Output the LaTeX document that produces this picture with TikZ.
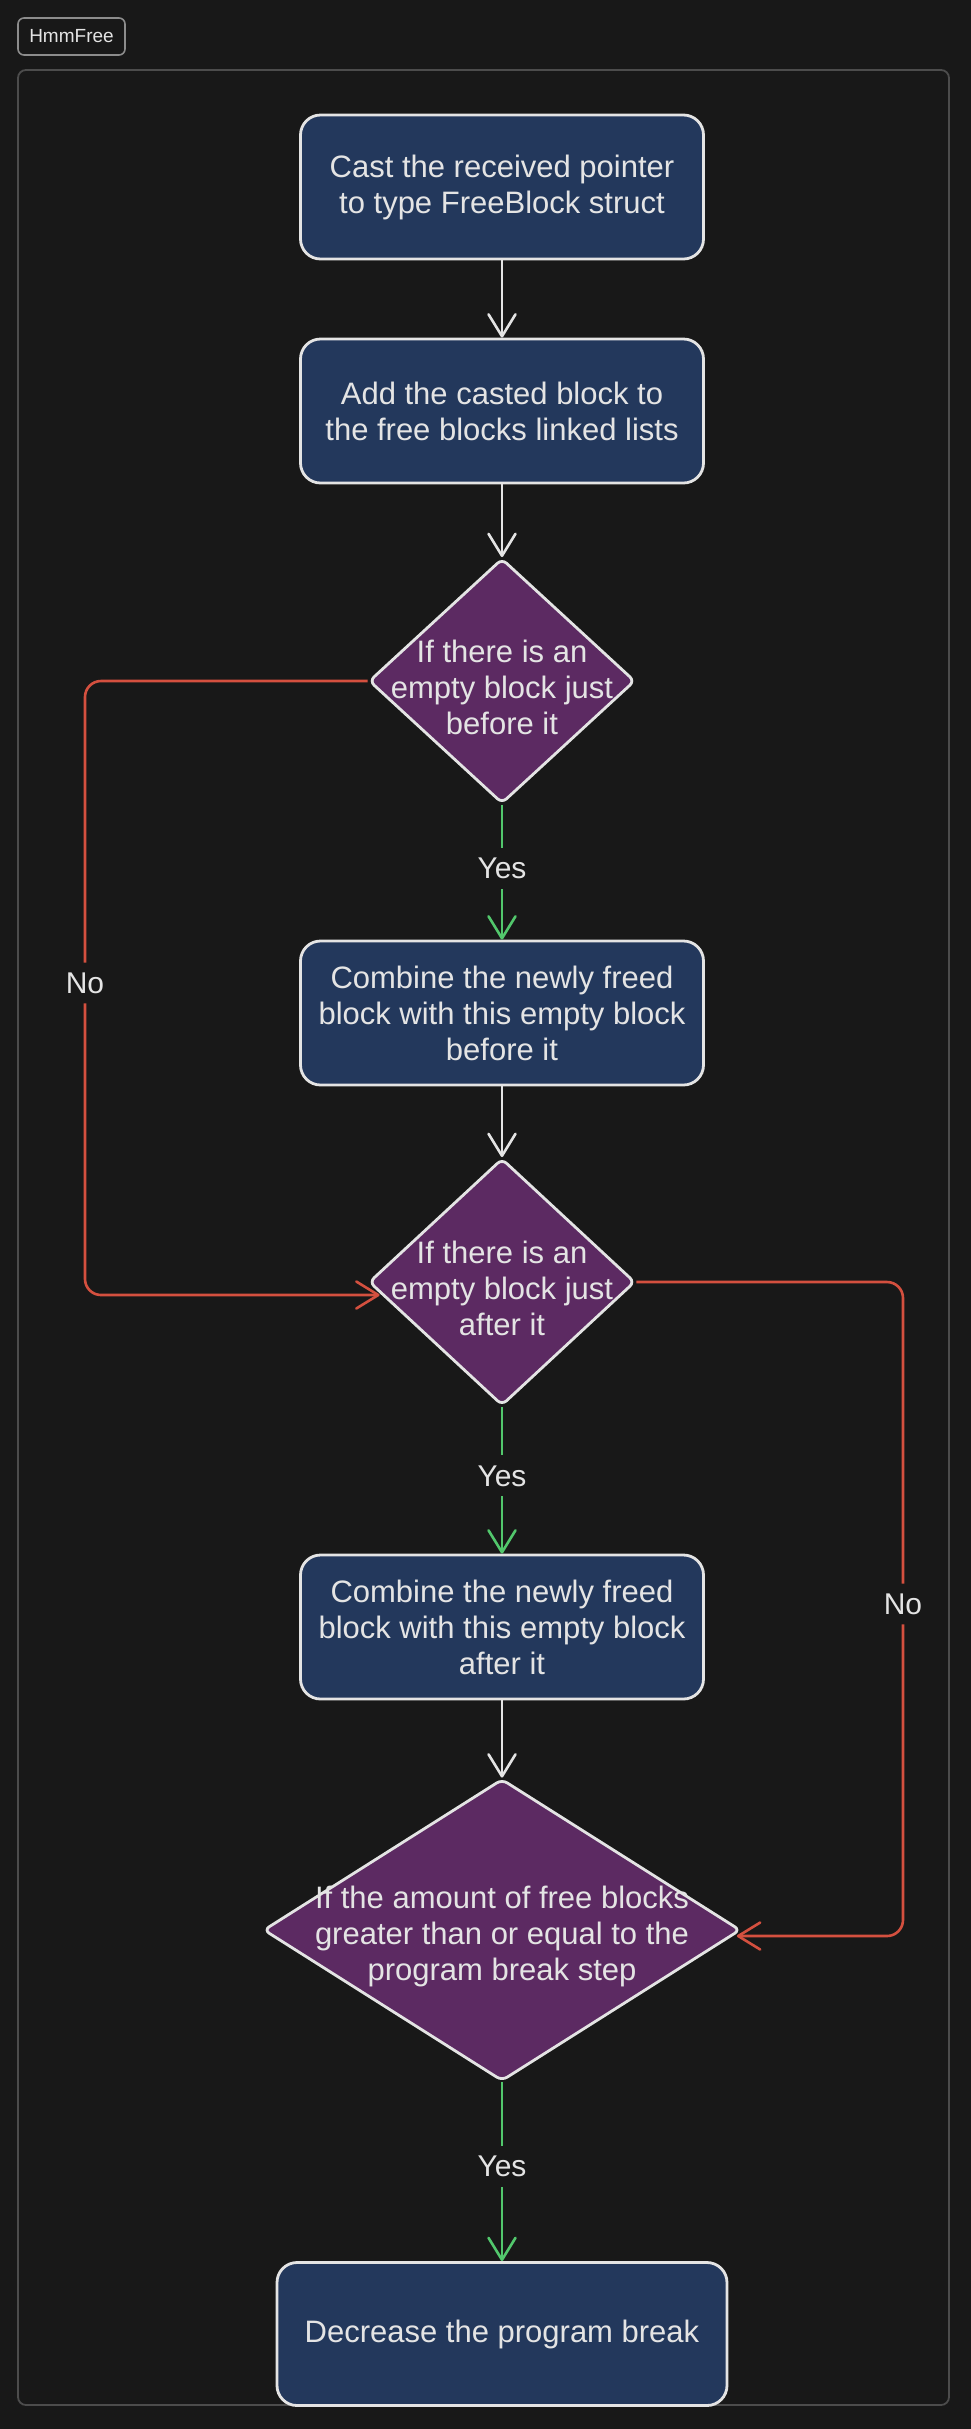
\documentclass[tikz,border=0pt]{standalone}
\usepackage{fontspec}
\setmainfont{Liberation Sans}
\usetikzlibrary{arrows.meta,shapes.geometric,calc}
\definecolor{bg}{HTML}{181818}
\definecolor{ink}{HTML}{E4E4E4}
\definecolor{framegray}{HTML}{4C4C4C}
\definecolor{taggray}{HTML}{8C8C8C}
\definecolor{actfill}{HTML}{23385C}
\definecolor{askfill}{HTML}{5C2A62}
\definecolor{nope}{HTML}{D4503F}
\definecolor{okay}{HTML}{52C76C}

\begin{document}
\begin{tikzpicture}[x=1pt,y=-1pt,
  font=\fontsize{31}{36}\selectfont, text=ink,
  flow/.style={-{Straight Barb[length=22pt,width=27pt,round]}, line width=2.6pt, draw=ink},
  yesflow/.style={flow, draw=okay},
  noflow/.style={flow, draw=nope, rounded corners=16pt},
  act/.style={draw=ink, line width=2.8pt, rounded corners=20pt, fill=actfill,
              align=center, inner sep=0pt, minimum width=403pt, minimum height=144pt},
  ask/.style={diamond, draw=ink, line width=2.8pt, rounded corners=6pt, fill=askfill,
              inner sep=0pt},
  asktext/.style={align=center, yshift=-6pt},
  lbl/.style={fill=bg, text=ink, inner xsep=4pt, inner ysep=10pt,
              font=\fontsize{30}{36}\selectfont},
  tag/.style={draw=taggray, line width=1.6pt, rounded corners=6pt,
              minimum width=107pt, minimum height=37pt, inner sep=0pt,
              font=\fontsize{19}{22}\selectfont}]

\fill[bg] (0,0) rectangle (971,2429);
\path[use as bounding box] (0,0) rectangle (971,2429);

% ------------------------------------------------------------------ frame
\node[tag] (title) at (71.5,36.5) {HmmFree};
\draw[draw=framegray, line width=1.8pt, rounded corners=8pt] (18,70) rectangle (949,2405);

% ------------------------------------------------------------------ main column
\node[act] (cast) at (502,187) {Cast the received pointer\\to type FreeBlock struct};
\node[act] (add) at (502,411) {Add the casted block to\\the free blocks linked lists};
\node[ask, minimum width=266pt, minimum height=245pt,
  label={[asktext]center:If there is an\\empty block just\\before it}] (before) at (502,681) {};
\node[act] (joinprev) at (502,1013)
  {Combine the newly freed\\block with this empty block\\before it};
\node[ask, minimum width=266pt, minimum height=247pt,
  label={[asktext]center:If there is an\\empty block just\\after it}] (after) at (502,1282) {};
\node[act] (joinnext) at (502,1627)
  {Combine the newly freed\\block with this empty block\\after it};
\node[ask, minimum width=477pt, minimum height=302pt,
  label={[asktext]center:If the amount of free blocks\\greater than or equal to the\\program break step}]
  (enough) at (502,1930) {};
\node[act, minimum width=450pt, minimum height=143pt] (shrink) at (502,2334)
  {Decrease the program break};

\draw[flow] (cast) -- (add);
\draw[flow] (add) -- (before);
\draw[yesflow] (before) -- node[lbl, pos=0.47] {Yes} (joinprev);
\draw[flow] (joinprev) -- (after);
\draw[yesflow] (after) -- node[lbl, pos=0.47] {Yes} (joinnext);
\draw[flow] (joinnext) -- (enough);
\draw[yesflow] (enough) -- node[lbl, pos=0.47] {Yes} (shrink);

% ------------------------------------------------------------------ "no" detours
\coordinate (noleft) at (85,983);
\coordinate (afterin) at ($(after.west)+(12,13)$);
\draw[noflow] (before.west) -| (noleft) node[lbl] {No} |- (afterin);

\coordinate (noright) at (903,1604);
\coordinate (enoughin) at ($(enough.east)+(-5,6)$);
\draw[noflow] (after.east) -| (noright) node[lbl] {No} |- (enoughin);
\end{tikzpicture}
\end{document}
